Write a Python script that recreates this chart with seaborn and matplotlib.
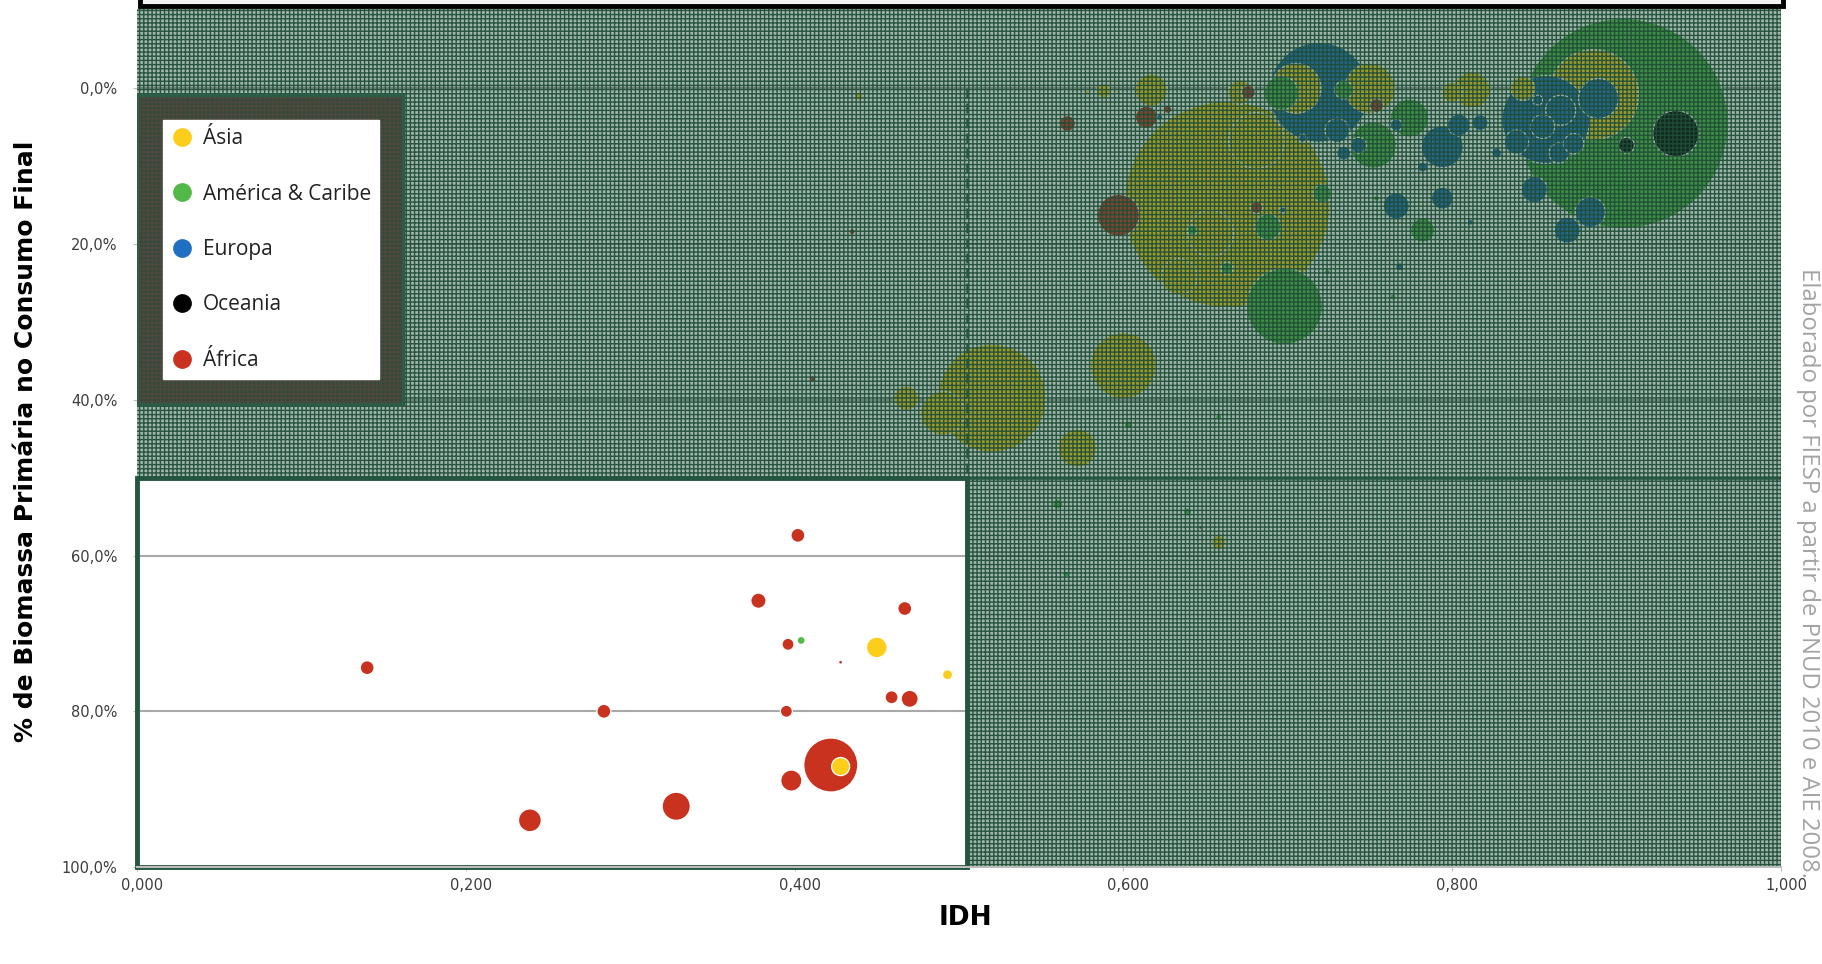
import matplotlib
matplotlib.use("Agg")
import matplotlib.pyplot as plt
import matplotlib.transforms as mtransforms
from matplotlib.patches import Rectangle
from matplotlib.lines import Line2D
from matplotlib.ticker import FuncFormatter, MultipleLocator
import pandas as pd
import seaborn as sns

# IDH x % de biomassa primaria no consumo final, tamanho = consumo de energia (Mtep aprox.)
asia_idh = [0.663, 0.520, 0.886, 0.600, 0.705, 0.750, 0.490, 0.572, 0.681, 0.653, 0.634,
            0.812, 0.617, 0.843, 0.468, 0.671, 0.800, 0.588, 0.658, 0.439, 0.578, 0.597,
            0.450, 0.493, 0.428]
asia_bio = [14.9, 39.8, 0.8, 35.6, 0.0, 0.0, 41.7, 46.2, 6.7, 18.6, 24.2,
            0.2, 0.2, 0.0, 39.8, 0.5, 0.5, 0.3, 58.3, 1.0, 0.5, 0.5,
            71.8, 75.3, 87.1]
asia_mtep = [2196, 604, 419, 225, 129, 129, 100, 75, 162, 110, 67,
             67, 53, 30, 30, 30, 21, 10, 10, 3.3, 0.8, 0.8,
             22, 5.2, 17]

amer_idh = [0.904, 0.698, 0.696, 0.774, 0.752, 0.688, 0.782, 0.721, 0.734, 0.663,
            0.642, 0.724, 0.764, 0.754, 0.603, 0.658, 0.560, 0.639, 0.565, 0.404]
amer_bio = [4.5, 28.0, 0.6, 3.8, 7.3, 17.8, 18.2, 13.5, 0.2, 23.1,
            18.2, 23.6, 26.8, 14.1, 43.2, 42.2, 53.4, 54.4, 62.4, 70.9]
amer_mtep = [2282, 299, 60, 75, 110, 35, 30, 17, 17, 7.5,
             5.2, 1.9, 1.9, 1.9, 3.3, 1.9, 5.2, 3.3, 1.9, 3.3]

euro_idh = [0.719, 0.857, 0.889, 0.794, 0.866, 0.884, 0.766, 0.850, 0.870, 0.730,
            0.855, 0.839, 0.794, 0.804, 0.865, 0.874, 0.743, 0.817, 0.734, 0.766,
            0.782, 0.827, 0.852, 0.709, 0.768, 0.811, 0.697, 0.622]
euro_bio = [0.5, 4.0, 1.3, 7.5, 2.8, 15.9, 15.1, 13.0, 18.2, 5.4,
            4.9, 6.9, 14.1, 4.7, 8.3, 7.1, 7.3, 4.4, 8.3, 4.7,
            10.1, 8.3, 1.5, 6.4, 22.9, 17.2, 15.6, 3.7]
euro_mtep = [517, 400, 83, 91, 47, 47, 35, 35, 35, 30,
             30, 30, 25, 25, 21, 21, 13, 13, 10, 7.5,
             5.2, 5.2, 5.2, 3.3, 3.3, 1.9, 1.9, 1.9]

ocea_idh = [0.936, 0.906]
ocea_bio = [5.8, 7.3]
ocea_mtep = [110, 13]

afri_idh = [0.597, 0.614, 0.566, 0.627, 0.754, 0.681, 0.676, 0.435, 0.411, 0.647, 0.633,
            0.402, 0.378, 0.467, 0.396, 0.428, 0.140, 0.459, 0.470, 0.284, 0.395,
            0.422, 0.398, 0.328, 0.239]
afri_bio = [16.3, 3.7, 4.5, 2.7, 2.2, 15.3, 0.5, 18.4, 37.3, 56.4, 79.9,
            57.4, 65.8, 66.8, 71.4, 73.7, 74.4, 78.2, 78.4, 80.0, 80.0,
            86.9, 88.9, 92.2, 94.0]
afri_mtep = [91, 25, 13, 3.3, 10, 7.5, 10, 1.9, 1.9, 0.8, 0.5,
             10, 12, 10, 7.5, 0.8, 10, 8.7, 15, 10, 7.5,
             151, 23, 41, 27]

regioes = ["Ásia", "América & Caribe", "Europa", "Oceania", "África"]
cores = {"Ásia": "#fdcd1b", "América & Caribe": "#52b848", "Europa": "#1f6fc2",
         "Oceania": "#000000", "África": "#c9321f"}

partes = []
for nome, xs, ys, es in [("Ásia", asia_idh, asia_bio, asia_mtep),
                         ("América & Caribe", amer_idh, amer_bio, amer_mtep),
                         ("Europa", euro_idh, euro_bio, euro_mtep),
                         ("Oceania", ocea_idh, ocea_bio, ocea_mtep),
                         ("África", afri_idh, afri_bio, afri_mtep)]:
    partes.append(pd.DataFrame({"regiao": nome, "idh": xs, "biomassa": ys, "energia": es}))
df = pd.concat(partes, ignore_index=True).sort_values("energia", ascending=False)

plt.rcParams["hatch.linewidth"] = 1.0
verde = "#24553f"

fig = plt.figure(figsize=(18.22, 9.64), dpi=100)
ax = fig.add_axes([137 / 1822, 1 - 867 / 964, 1644 / 1822, 858 / 964])

vmax = df["energia"].max()
sns.scatterplot(data=df, x="idh", y="biomassa", hue="regiao", size="energia",
                sizes=(0, 10 * vmax), size_norm=(0, vmax), palette=cores,
                edgecolor="white", linewidth=0.9, legend=False, ax=ax, zorder=2)

ax.set_xlim(0, 1)
ax.set_ylim(100, -10.2)
ax.set_xlabel("")
ax.set_ylabel("")
ax.xaxis.set_major_locator(MultipleLocator(0.2))
ax.yaxis.set_major_locator(MultipleLocator(20))
ax.xaxis.set_major_formatter(FuncFormatter(lambda v, p: f"{v:.3f}".replace(".", ",")))
ax.yaxis.set_major_formatter(FuncFormatter(lambda v, p: f"{v:.1f}%".replace(".", ",")))
ax.grid(axis="y", color="#a9a9a9", linewidth=1.5)
ax.set_axisbelow(True)
for s in ["top", "left", "right"]:
    ax.spines[s].set_visible(False)
ax.spines["bottom"].set_color("#bdbdbd")
ax.spines["bottom"].set_linewidth(1.5)
ax.spines["bottom"].set_zorder(6)
ax.tick_params(axis="y", length=3, color="#bdbdbd", pad=11, labelsize=10.5, labelcolor="#3c3c3c")
ax.tick_params(axis="x", length=3, color="#bdbdbd", pad=5, labelsize=10.5, labelcolor="#3c3c3c")
desloc = mtransforms.ScaledTranslation(0.05, 0, fig.dpi_scale_trans)
for lab in ax.get_xticklabels():
    lab.set_transform(lab.get_transform() + desloc)

# mascara quadriculada sobre tudo, menos o quadrante IDH baixo / biomassa alta
corte_x, corte_y = 0.505, 50
for (x0, y0, w, h) in [(0, -10.2, 1, corte_y + 10.2), (corte_x, corte_y, 1 - corte_x, 100 - corte_y)]:
    ax.add_patch(Rectangle((x0, y0), w, h, facecolor=(0.16, 0.36, 0.27, 0.45),
                           edgecolor="none", zorder=3))
    ax.add_patch(Rectangle((x0, y0), w, h, facecolor="none", hatch="++++",
                           edgecolor=(0.12, 0.30, 0.21, 0.92), linewidth=0, zorder=3.1))

ax.axhline(corte_y, color=verde, linewidth=1.8, zorder=4)
ax.vlines(corte_x, 0, corte_y, colors=verde, linestyles=(0, (4, 2)), linewidth=1.8, zorder=4)
ax.add_patch(Rectangle((0, corte_y), corte_x, 100 - corte_y, fill=False, edgecolor=verde,
                       linewidth=3.5, zorder=6, clip_on=False))

# moldura escura em volta da legenda
caixa = (0, 0.5396, 0.1618, 0.3602)
ax.add_patch(Rectangle(caixa[:2], caixa[2], caixa[3], transform=ax.transAxes,
                       facecolor="#33493c", edgecolor="none", zorder=4))
ax.add_patch(Rectangle(caixa[:2], caixa[2], caixa[3], transform=ax.transAxes, facecolor="none",
                       hatch="++++", edgecolor=(0.45, 0.28, 0.24, 0.45), linewidth=0, zorder=4.1))
ax.add_patch(Rectangle(caixa[:2], caixa[2], caixa[3], transform=ax.transAxes, fill=False,
                       edgecolor="#2b5c45", linewidth=2.5, zorder=4.2))

handles = [Line2D([], [], marker="o", linestyle="", markersize=13.5,
                  markerfacecolor=cores[r], markeredgecolor="none") for r in regioes]
leg = ax.legend(handles, regioes, loc="upper left", bbox_to_anchor=(163 / 1822, 1 - 120 / 964),
                bbox_transform=fig.transFigure, frameon=True, fancybox=False, framealpha=1,
                facecolor="white", edgecolor="white", borderpad=0.4, labelspacing=1.65,
                handlelength=1.0, handletextpad=0.5, borderaxespad=0,
                prop={"family": "Open Sans", "size": 15})
leg.set_zorder(7)
for t in leg.get_texts():
    t.set_color("#222222")

# caixa de titulo cortada no topo
fig.patches.append(Rectangle((139.5 / 1822, 1 - 6 / 964), 1643.5 / 1822, 0.05,
                             transform=fig.transFigure, facecolor="#f3f1f1",
                             edgecolor="black", linewidth=3.5, clip_on=False))

fig.text(26 / 1822, 1 - 441 / 964, "% de Biomassa Primária no Consumo Final", rotation=90,
         ha="center", va="center", fontsize=18, fontweight="bold", color="black")
fig.text(965 / 1822, 1 - 918 / 964, "IDH", ha="center", va="center", fontsize=19,
         fontweight="bold", color="black")
fig.text(1808 / 1822, 1 - 573 / 964, "Elaborado por FIESP a partir de PNUD 2010 e AIE 2008.",
         rotation=-90, ha="center", va="center", fontsize=17.2, color="#a3a3a3",
         family="Open Sans")

fig.savefig("out.png", dpi=100)
